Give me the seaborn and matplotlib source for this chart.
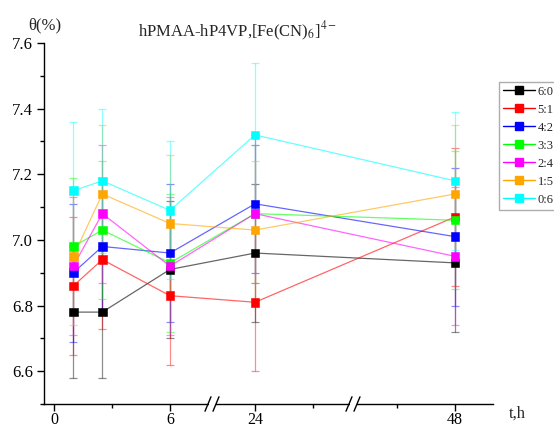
import numpy as np
import pandas as pd
import matplotlib
matplotlib.use("Agg")
import matplotlib.pyplot as plt
import seaborn as sns
from matplotlib.lines import Line2D

# ---------------- data ----------------
ratios = ["6:0", "5:1", "4:2", "3:3", "2:4", "1:5", "0:6"]
colors = ["#000000", "#FF0000", "#0000FF", "#00FF00", "#FF00FF", "#FFA500", "#00FFFF"]
times_h = [1, 2.5, 6, 24, 48]

theta_60 = [6.78, 6.78, 6.91, 6.96, 6.93]
theta_51 = [6.86, 6.94, 6.83, 6.81, 7.07]
theta_42 = [6.90, 6.98, 6.96, 7.11, 7.01]
theta_33 = [6.98, 7.03, 6.93, 7.08, 7.06]
theta_24 = [6.92, 7.08, 6.92, 7.08, 6.95]
theta_15 = [6.95, 7.14, 7.05, 7.03, 7.14]
theta_06 = [7.15, 7.18, 7.09, 7.32, 7.18]

err_60 = [0.20, 0.20, 0.21, 0.21, 0.21]
err_51 = [0.21, 0.21, 0.21, 0.21, 0.21]
err_42 = [0.21, 0.21, 0.21, 0.21, 0.21]
err_33 = [0.21, 0.21, 0.21, 0.21, 0.21]
err_24 = [0.21, 0.21, 0.21, 0.21, 0.21]
err_15 = [0.21, 0.21, 0.21, 0.21, 0.21]
err_06 = [0.21, 0.22, 0.21, 0.22, 0.21]

x_tick_hours = [0, 6, 24, 48]
x_minor_hours = [3, 30, 42]
y_ticks = [6.6, 6.8, 7.0, 7.2, 7.4, 7.6]

series = [theta_60, theta_51, theta_42, theta_33, theta_24, theta_15, theta_06]
errors = [err_60, err_51, err_42, err_33, err_24, err_15, err_06]


def hpos(h):
    """broken time axis: hours -> axis position"""
    h = np.asarray(h, dtype=float)
    return np.where(h <= 12, h * 19.33,
                    np.where(h <= 36, 201.0 + (h - 24) * 9.67,
                             401.0 + (h - 48) * 9.67))


rows = []
for r, vals, errs in zip(ratios, series, errors):
    for t, v, e in zip(times_h, vals, errs):
        rows.append({"ratio": r, "t": float(hpos(t)), "theta": v, "err": e})
df = pd.DataFrame(rows)

# ---------------- style ----------------
sns.set_theme(style="ticks")
plt.rcParams["font.family"] = ["Liberation Serif", "DejaVu Serif"]
plt.rcParams["mathtext.fontset"] = "stix"

fig = plt.figure(figsize=(5.54, 4.28), dpi=100)
ax = fig.add_axes([44 / 554, 1 - 404 / 428, 449 / 554, 361 / 428])

pal = dict(zip(ratios, colors))

# error bars
for r, c in zip(ratios, colors):
    d = df[df["ratio"] == r]
    ax.errorbar(d["t"], d["theta"], yerr=d["err"], fmt="none", ecolor=c,
                alpha=0.45, elinewidth=0.9, capsize=3, capthick=0.9, zorder=2)

sns.lineplot(data=df, x="t", y="theta", hue="ratio", palette=pal,
             hue_order=ratios, linewidth=0.9, alpha=0.6, legend=False,
             ax=ax, zorder=3, sort=False)
sns.scatterplot(data=df, x="t", y="theta", hue="ratio", palette=pal,
                hue_order=ratios, marker="s", s=38, linewidth=0.4,
                edgecolor="face", legend=False, ax=ax, zorder=4)

ax.set_xlim(-10, 439)
ax.set_ylim(6.5, 7.6)
ax.set_xticks(hpos(x_tick_hours))
ax.set_xticklabels([str(h) for h in x_tick_hours])
ax.set_xticks(hpos(x_minor_hours), minor=True)
ax.set_yticks(y_ticks)
ax.set_yticklabels([f"{v:.1f}" for v in y_ticks])
ax.set_yticks(np.arange(6.5, 7.61, 0.1), minor=True)
ax.set_xlabel("")
ax.set_ylabel("")

for s in ["top", "right"]:
    ax.spines[s].set_visible(False)
for s in ["left", "bottom"]:
    ax.spines[s].set_linewidth(1.0)
    ax.spines[s].set_color("black")
ax.tick_params(axis="both", which="major", direction="out", length=5,
               width=1.0, labelsize=12, color="black", labelcolor="black", pad=3)
ax.tick_params(axis="x", which="major", labelsize=11.5, pad=1)
ax.tick_params(axis="both", which="minor", direction="out", length=3,
               width=1.0, color="black")

# axis breaks
tr = ax.get_xaxis_transform()
for b in [158.0, 299.0]:
    ax.add_patch(plt.Rectangle((b - 3.5, -0.01), 7, 0.02, transform=tr,
                               facecolor="white", edgecolor="none",
                               clip_on=False, zorder=5))
    for dx in (-7.0, 1.0):
        ax.plot([b + dx, b + dx + 6], [-0.02, 0.02], transform=tr,
                color="black", lw=1.0, clip_on=False, zorder=6)

# texts
fig.text(45 / 554, 1 - 25 / 428, "θ(%)", ha="center", va="center", fontsize=12)
fig.text(138 / 554, 1 - 31 / 428, "hPMAA-hP4VP,[Fe(CN)$_6$]$^{4-}$",
         ha="left", va="center", fontsize=12)
fig.text(517 / 554, 1 - 414 / 428, "t,h", ha="center", va="center", fontsize=12)

# legend
handles = [Line2D([0], [0], color=c, lw=1.0, alpha=0.55, marker="s",
                  markersize=6, markerfacecolor=c, markeredgecolor=c)
           for c in colors]
leg = fig.legend(handles, ratios, loc="upper left",
                 bbox_to_anchor=(499 / 554, 1 - 82 / 428),
                 frameon=True, fancybox=False, fontsize=9,
                 handlelength=2.55, handletextpad=0.25, borderpad=0.3,
                 labelspacing=0.48, borderaxespad=0)
leg.get_frame().set_edgecolor("#999999")
leg.get_frame().set_linewidth(1.0)
for h in leg.legend_handles:
    h.set_alpha(None)
    h.set_color(h.get_markerfacecolor())

fig.savefig("out.png", dpi=100, facecolor="white")
